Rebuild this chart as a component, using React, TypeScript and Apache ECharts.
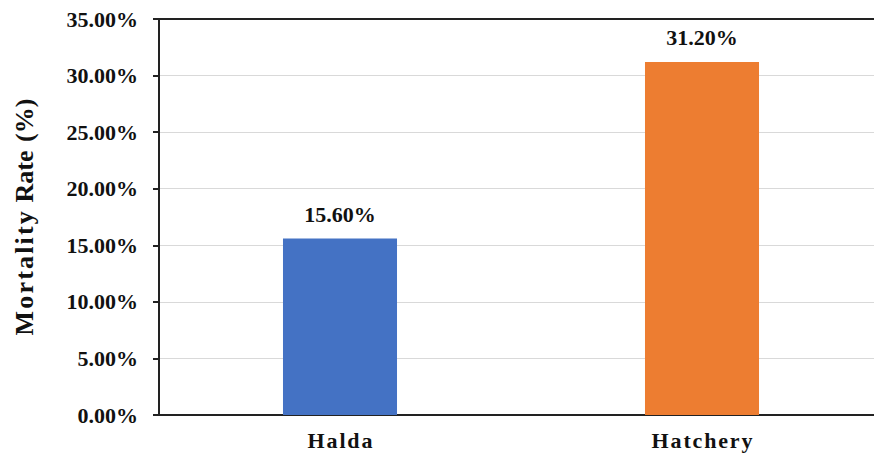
import React, { useEffect, useRef } from "react";
import * as echarts from "echarts";

const categories = ["Halda", "Hatchery"];
const mortality = [15.6, 31.2];
const barColors = ["#4472C4", "#ED7D31"];
const yTicks = [0, 5, 10, 15, 20, 25, 30, 35];

const HAIR = "\u200A";

export default function App() {
  const ref = useRef<HTMLDivElement>(null);
  useEffect(() => {
    const chart = echarts.init(ref.current!, null, { renderer: "svg" });
    const font = "'Liberation Serif', 'Times New Roman', serif";
    chart.setOption({
      animation: false,
      grid: { left: 159, right: 0, top: 19, bottom: 41, containLabel: false },
      xAxis: [
        {
          type: "category",
          data: categories,
          axisLine: { lineStyle: { color: "#222", width: 2 } },
          axisTick: { show: false },
          axisLabel: {
            fontFamily: font,
            fontWeight: "bold",
            fontSize: 22,
            color: "#111",
            margin: 14,
            formatter: (v: string) => v.split("").join(HAIR),
          },
        },
        {
          type: "category",
          position: "top",
          data: categories,
          axisLine: { lineStyle: { color: "#222", width: 2 } },
          axisTick: { show: false },
          axisLabel: { show: false },
        },
      ],
      yAxis: {
        type: "value",
        min: yTicks[0],
        max: yTicks[yTicks.length - 1],
        interval: 5,
        name: "Mortality".split("").join(HAIR) + " " + HAIR + "Rate " + HAIR + "(%)",
        nameLocation: "middle",
        nameGap: 122,
        nameTextStyle: {
          fontFamily: font,
          fontWeight: "bold",
          fontSize: 26,
          color: "#111",
        },
        axisLine: { show: true, lineStyle: { color: "#222", width: 2 } },
        axisTick: { show: true, length: 6, lineStyle: { color: "#222", width: 2 } },
        axisLabel: {
          fontFamily: font,
          fontWeight: "bold",
          fontSize: 22,
          color: "#111",
          margin: 21,
          formatter: (v: number) => v.toFixed(2) + "%",
        },
        splitLine: { lineStyle: { color: "#d9d9d9", width: 1 } },
      },
      series: [
        {
          type: "bar",
          barWidth: "31.5%",
          data: mortality.map((v, i) => ({ value: v, itemStyle: { color: barColors[i] } })),
          label: {
            show: true,
            position: "top",
            distance: 13,
            fontFamily: font,
            fontWeight: "bold",
            fontSize: 22,
            color: "#111",
            formatter: (p: any) => Number(p.value).toFixed(2) + "%",
          },
        },
      ],
    });
    return () => chart.dispose();
  }, []);
  return (
    <div style={{ width: 874, height: 456, position: "absolute", left: 0, top: 0, overflow: "hidden" }}>
      <div ref={ref} style={{ width: 883, height: 456, position: "absolute", left: 0, top: 0 }} />
    </div>
  );
}
